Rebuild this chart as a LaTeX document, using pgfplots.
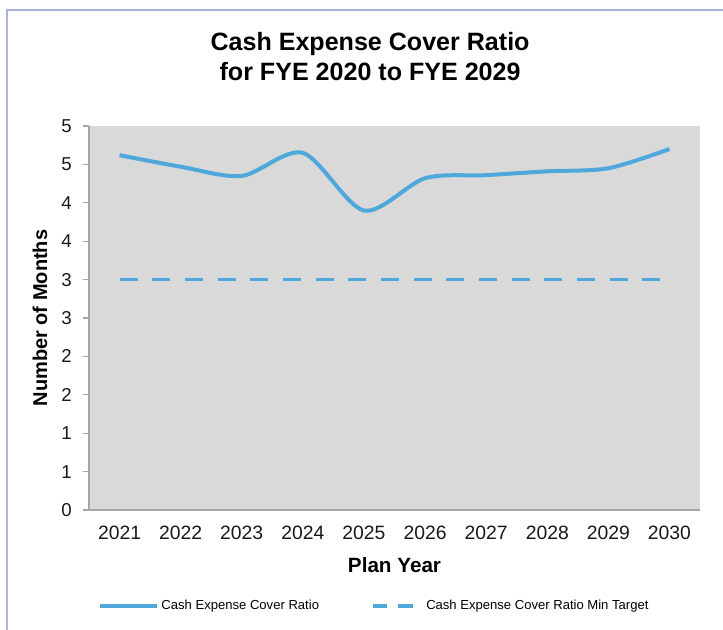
\documentclass[border=0pt]{standalone}
\usepackage{pgfplots}
\pgfplotsset{compat=1.18}
\usepackage{fontspec}
\setmainfont{Liberation Sans}
\setsansfont{Liberation Sans}
\definecolor{lineblue}{HTML}{4FA8DC}
\definecolor{plotgray}{HTML}{D9D9D9}
\definecolor{axisgray}{HTML}{A6A6A6}
\definecolor{framec}{HTML}{A9B4DC}
\begin{document}
\begin{tikzpicture}
\path[use as bounding box] (0pt,0pt) rectangle (542.25pt,-472.5pt);
\draw[framec, line width=1.5pt] (5.25pt,-472.5pt) -- (5.25pt,-7.5pt) -- (542.25pt,-7.5pt);
\begin{axis}[
  at={(66.75pt,-382.5pt)}, anchor=south west,
  scale only axis, width=458.25pt, height=288pt,
  xmin=2020.5, xmax=2030.5, ymin=0, ymax=5,
  axis background/.style={fill=plotgray},
  axis x line*=bottom, axis y line*=left,
  axis line style={axisgray, line width=1.1pt},
  every outer x axis line/.append style={-}, every outer y axis line/.append style={-},
  xtick={2021,2022,2023,2024,2025,2026,2027,2028,2029,2030},
  xticklabels={2021,2022,2023,2024,2025,2026,2027,2028,2029,2030},
  ytick={0,0.5,1,1.5,2,2.5,3,3.5,4,4.5,5},
  yticklabels={0,1,1,2,2,3,3,4,4,5,5},
  x tick style={draw=none},
  y tick style={axisgray, line width=0.8pt},
  tick align=outside, major tick length=4.5pt,
  xticklabel style={font=\fontsize{14.5}{16}\selectfont, text=black!90, yshift=-4pt},
  yticklabel style={font=\fontsize{14}{16}\selectfont, text=black!90, xshift=-5pt},
  title={Cash Expense Cover Ratio\\for FYE 2020 to FYE 2029},
  title style={at={(rel axis cs:0.46,1.161)}, anchor=center, align=center,
    font=\bfseries\fontsize{18.8}{22.5}\selectfont},
  xlabel={Plan Year},
  xlabel style={at={(rel axis cs:0.5,-0.143)}, anchor=center, font=\bfseries\fontsize{15.5}{17}\selectfont},
  ylabel={Number of Months},
  ylabel style={at={(rel axis cs:-0.0802,0.5)}, anchor=center, rotate=0, font=\bfseries\fontsize{15}{17}\selectfont},
  legend columns=2,
  legend style={at={(rel axis cs:0.0147,-0.25)}, anchor=west, draw=none, fill=none,
    font=\fontsize{9.8}{11}\selectfont, inner sep=0pt,
    /tikz/every even column/.append style={column sep=37pt}},
]
\addplot[lineblue, line width=3pt, smooth, tension=0.5,
  legend image code/.code={\draw[lineblue, line width=2.4pt] (0pt,0pt) -- (43pt,0pt);}]
  coordinates {(2021,4.62) (2022,4.47) (2023,4.35) (2024,4.65) (2025,3.90)
               (2026,4.32) (2027,4.36) (2028,4.41) (2029,4.45) (2030,4.70)};
\addlegendentry{Cash Expense Cover Ratio}
\addplot[lineblue, line width=2.6pt, dash pattern=on 13.5pt off 11pt,
  legend image code/.code={\draw[lineblue, line width=2.4pt, dash pattern=on 11pt off 8pt] (0pt,0pt) -- (37pt,0pt);}]
  coordinates {(2021,3) (2022,3) (2023,3) (2024,3) (2025,3)
               (2026,3) (2027,3) (2028,3) (2029,3) (2030,3)};
\addlegendentry{Cash Expense Cover Ratio Min Target}
\end{axis}
\end{tikzpicture}
\end{document}
